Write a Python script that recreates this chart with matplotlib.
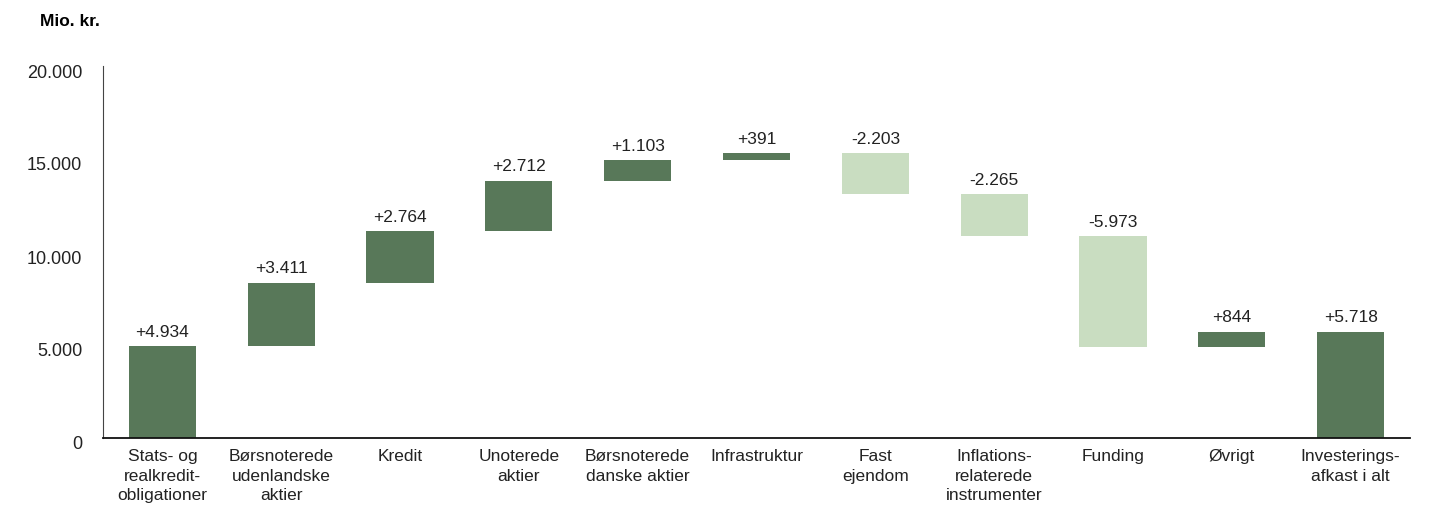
import matplotlib.pyplot as plt
import matplotlib.transforms as mtransforms
import numpy as np

categories = ["Stats- og\nrealkredit-\nobligationer", "Børsnoterede\nudenlandske\naktier", "Kredit",
              "Unoterede\naktier", "Børsnoterede\ndanske aktier", "Infrastruktur", "Fast\nejendom",
              "Inflations-\nrelaterede\ninstrumenter", "Funding", "Øvrigt", "Investerings-\nafkast i alt"]
changes = [4934, 3411, 2764, 2712, 1103, 391, -2203, -2265, -5973, 844]
total = 5718

dark = "#587859"
light = "#c9ddc1"

plt.rcParams['font.family'] = ['Liberation Sans', 'DejaVu Sans']

fig = plt.figure(figsize=(14.39, 5.06), dpi=100)
ax = fig.add_axes([103 / 1439, (506 - 439) / 506, (1410 - 103) / 1439, (439 - 67) / 506])

def fmt(v):
    s = f"{abs(v):,}".replace(",", ".")
    return ("+" if v >= 0 else "-") + s

cum = np.concatenate([[0], np.cumsum(changes)])
x = np.arange(len(categories))
for i, d in enumerate(changes):
    lo = min(cum[i], cum[i + 1])
    col = dark if d >= 0 else light
    ax.bar(x[i], abs(d), bottom=lo, width=0.565, color=col)
    ax.text(x[i], max(cum[i], cum[i + 1]) + 400, fmt(d), ha='center', va='bottom', fontsize=12.5, color='#222222')
ax.bar(x[-1], total, width=0.565, color=dark)
ax.text(x[-1], total + 400, fmt(total), ha='center', va='bottom', fontsize=12.5, color='#222222')

ax.set_xlim(-0.5, len(categories) - 0.5)
ax.set_ylim(0, 20000)
ax.set_yticks([0, 5000, 10000, 15000, 20000])
ax.set_yticklabels(["0", "5.000", "10.000", "15.000", "20.000"])
ax.set_xticks(x)
ax.set_xticklabels(categories, fontsize=12.5, linespacing=1.4, color='#222222')
ax.tick_params(axis='y', length=0, pad=15, labelsize=13, labelcolor='#222222')
ax.tick_params(axis='x', length=0, pad=7)
# y labels sit a little below their tick in the reference
shift = mtransforms.ScaledTranslation(0, -4 / 100, fig.dpi_scale_trans)
for lab in ax.get_yticklabels():
    lab.set_transform(lab.get_transform() + shift)
ax.spines['top'].set_visible(False)
ax.spines['right'].set_visible(False)
ax.spines['left'].set_color('#444444')
ax.spines['bottom'].set_color('#111111')
ax.spines['bottom'].set_linewidth(1.3)

fig.text(40 / 1439, 1 - 21 / 506, "Mio. kr.", fontsize=12.5, fontweight='bold', va='center', ha='left')

fig.savefig("out.png", dpi=100)
